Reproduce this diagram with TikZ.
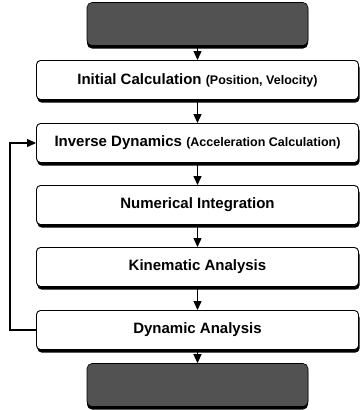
\documentclass[tikz,border=0pt]{standalone}
\usepackage{fontspec}
\setmainfont{Liberation Sans}
\usepackage{tikz}
\usetikzlibrary{
  arrows.meta,
  positioning,
  shadows,
}
\newcommand{\stepnote}[1]{{\fontsize{12.5}{14}\selectfont #1}}

\begin{document}
\begin{tikzpicture}[
  x=1pt, y=-1pt,
  stage/.style={
    draw=black, fill=white, rounded corners=4pt, line width=0.9pt,
    minimum width=322pt, minimum height=39pt, font=\bfseries\fontsize{15}{17}\selectfont,
    general shadow={shadow xshift=1pt, shadow yshift=-3pt, fill=black},
    align=center, inner sep=0pt,
  },
  terminal/.style={
    draw=black, fill=black!68, rounded corners=5pt, line width=0.6pt,
    minimum width=221pt, minimum height=43pt,
    general shadow={shadow xshift=0pt, shadow yshift=-3pt, fill=black},
  },
  connector/.style={
    -{Triangle[length=9pt,width=8pt]}, line width=1.1pt, color=black,
  },
]
  \useasboundingbox (0,0) rectangle (363,410);

  % --- start / end blocks ---
  \node[terminal] (start) at (197.5,24) {};
  \node[terminal] (finish) at (197.5,385) {};

  % --- solution steps ---
  \node[stage] (init)   at (197.5,80)  {Initial Calculation \stepnote{(Position, Velocity)}};
  \node[stage] (invdyn) at (197.5,143) {Inverse Dynamics \stepnote{(Acceleration Calculation)}};
  \node[stage] (numint) at (197.5,205) {Numerical Integration};
  \node[stage] (kinan)  at (197.5,267) {Kinematic Analysis};
  \node[stage] (dynan)  at (197.5,330) {Dynamic Analysis};

  % --- flow ---
  \draw[connector] (start) -- (init);
  \draw[connector] (init) -- (invdyn);
  \draw[connector] (invdyn) -- (numint);
  \draw[connector] (numint) -- (kinan);
  \draw[connector] (kinan) -- (dynan);
  \draw[connector] (dynan) -- (finish);

  % feedback loop
  \coordinate (loop) at (10,330);
  \draw[connector] (dynan.west) -- (loop) |- (invdyn.west);
\end{tikzpicture}
\end{document}
